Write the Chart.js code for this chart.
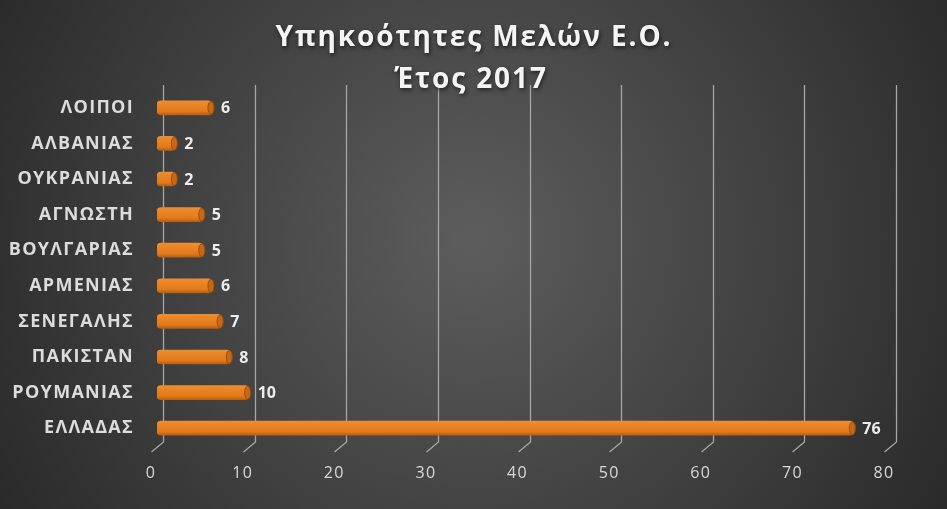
<!DOCTYPE html>
<html>
<head>
<meta charset="utf-8">
<script src="https://cdn.jsdelivr.net/npm/chart.js@4.4.1/dist/chart.umd.min.js"></script>
<style>
html,body{margin:0;padding:0;background:#333;}
#wrap{width:947px;height:509px;position:relative;}
</style>
</head>
<body>
<div id="wrap"><canvas id="c" width="947" height="509"></canvas></div>
<script>
const categories = ['ΛΟΙΠΟΙ', 'ΑΛΒΑΝΙΑΣ', 'ΟΥΚΡΑΝΙΑΣ', 'ΑΓΝΩΣΤΗ', 'ΒΟΥΛΓΑΡΙΑΣ', 'ΑΡΜΕΝΙΑΣ', 'ΣΕΝΕΓΑΛΗΣ', 'ΠΑΚΙΣΤΑΝ', 'ΡΟΥΜΑΝΙΑΣ', 'ΕΛΛΑΔΑΣ'];
const values = [6, 2, 2, 5, 5, 6, 7, 8, 10, 76];
const titleLines = ['Υπηκοότητες Μελών Ε.Ο.', 'Έτος 2017'];
const xTicks = [0, 10, 20, 30, 40, 50, 60, 70, 80];

const BAR_T = 14;
const SPACING = '1.3px';

const spacingPlugin = {
  id: 'spacing',
  beforeLayout(chart) { chart.ctx.letterSpacing = SPACING; },
  beforeDraw(chart) { chart.ctx.letterSpacing = SPACING; }
};

const bgPlugin = {
  id: 'bg',
  beforeDraw(chart) {
    const { ctx, width, height } = chart;
    const g = ctx.createRadialGradient(width * 0.5, height * 0.47, 10, width * 0.5, height * 0.47, width * 0.62);
    g.addColorStop(0, '#5c5c5c');
    g.addColorStop(1, '#262626');
    ctx.save();
    ctx.fillStyle = g;
    ctx.fillRect(0, 0, width, height);
    ctx.restore();
  }
};

const titlePlugin = {
  id: 'title2',
  afterDraw(chart) {
    const { ctx } = chart;
    ctx.save();
    ctx.letterSpacing = '1.9px';
    ctx.font = 'bold 28px "Open Sans", sans-serif';
    ctx.fillStyle = '#f4f4f4';
    ctx.textAlign = 'center';
    ctx.textBaseline = 'alphabetic';
    ctx.shadowColor = 'rgba(0,0,0,0.6)';
    ctx.shadowBlur = 4;
    ctx.shadowOffsetX = 1;
    ctx.shadowOffsetY = 2;
    ctx.fillText(titleLines[0], 474, 46);
    ctx.fillText(titleLines[1], 471, 88);
    ctx.restore();
  }
};

const gridPlugin = {
  id: 'grid3d',
  beforeDatasetsDraw(chart) {
    const { ctx, chartArea } = chart;
    const xs = chart.scales.x;
    ctx.save();
    ctx.strokeStyle = '#a6a6a6';
    ctx.lineWidth = 1.3;
    xTicks.forEach(v => {
      const x = Math.round(xs.getPixelForValue(v) + 6) + 0.5;
      ctx.beginPath();
      ctx.moveTo(x, chartArea.top - 5);
      ctx.lineTo(x, chartArea.bottom - 4);
      ctx.lineTo(x - 12, chartArea.bottom + 6);
      ctx.stroke();
    });
    ctx.restore();
  }
};

const labelPlugin = {
  id: 'vlabels',
  afterDatasetsDraw(chart) {
    const { ctx } = chart;
    const meta = chart.getDatasetMeta(0);
    ctx.save();
    ctx.letterSpacing = '0px';
    meta.data.forEach((el, i) => {
      ctx.fillStyle = '#c86814';
      ctx.beginPath();
      ctx.ellipse(el.x - 1, el.y, 3, BAR_T / 2 - 0.5, 0, 0, Math.PI * 2);
      ctx.fill();
      ctx.strokeStyle = '#9a4e0c';
      ctx.lineWidth = 1;
      ctx.stroke();
      ctx.fillStyle = '#ededed';
      ctx.font = 'bold 16px "Open Sans", sans-serif';
      ctx.textAlign = 'left';
      ctx.textBaseline = 'middle';
      ctx.fillText(String(values[i]), el.x + 9, el.y + 1);
    });
    ctx.restore();
  }
};

new Chart(document.getElementById('c'), {
  type: 'bar',
  data: {
    labels: categories,
    datasets: [{
      data: values,
      barThickness: BAR_T,
      borderWidth: 0,
      borderRadius: 4,
      borderSkipped: false,
      backgroundColor: (c) => {
        const chart = c.chart;
        const ys = chart.scales && chart.scales.y;
        if (!ys || c.dataIndex === undefined) return '#e8801f';
        const yc = ys.getPixelForValue(c.dataIndex);
        if (!isFinite(yc)) return '#e8801f';
        const g = chart.ctx.createLinearGradient(0, yc - BAR_T / 2, 0, yc + BAR_T / 2);
        g.addColorStop(0, '#ec8d34');
        g.addColorStop(0.3, '#ea8424');
        g.addColorStop(0.75, '#e27a1c');
        g.addColorStop(1, '#b85f12');
        return g;
      }
    }]
  },
  options: {
    indexAxis: 'y',
    responsive: false,
    animation: false,
    layout: { padding: { top: 90, right: 57, bottom: 0, left: 0 } },
    plugins: {
      legend: { display: false },
      tooltip: { enabled: false },
      title: { display: false }
    },
    scales: {
      x: {
        min: 0,
        max: 80,
        afterBuildTicks: (s) => { s.ticks = xTicks.map(v => ({ value: v })); },
        afterFit: (s) => { s.height = 63; },
        grid: { display: false },
        border: { display: false },
        ticks: {
          color: '#d9d9d9',
          font: { family: '"Open Sans", sans-serif', size: 16, lineHeight: 1.25 },
          labelOffset: -6,
          padding: 9
        }
      },
      y: {
        afterFit: (s) => { s.width = 157; },
        grid: { display: false },
        border: { display: false },
        ticks: {
          color: '#dcdcdc',
          font: { family: '"Open Sans", sans-serif', size: 18, weight: 'bold' },
          padding: 15
        }
      }
    }
  },
  plugins: [spacingPlugin, bgPlugin, gridPlugin, labelPlugin, titlePlugin]
});
</script>
</body>
</html>
